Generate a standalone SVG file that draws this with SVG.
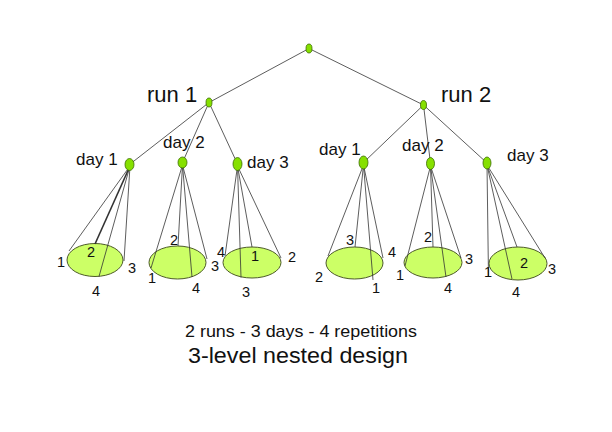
<svg xmlns="http://www.w3.org/2000/svg" width="612" height="432" viewBox="0 0 612 432">
<style>
.bg{fill:#ffffff}
.node{fill:#86e000;stroke:#3a6b00;stroke-width:0.8}
.base{fill:#ccff66;stroke:#4d5a2a;stroke-width:1}
.edge{stroke:#333333;stroke-width:0.8;fill:none}
.t{font-family:"Liberation Sans",Arial,sans-serif;fill:#111111}
.big{font-size:22px}
.day{font-size:17px}
.num{font-size:14.5px;text-anchor:middle}
.cap{text-anchor:middle}
</style>
<rect class="bg" x="0" y="0" width="612" height="432"/>
<g id="bases">
<ellipse id="base-r1d1" class="base" cx="95" cy="260" rx="28" ry="16.5"/>
<ellipse id="base-r1d2" class="base" cx="177.5" cy="262.5" rx="28.5" ry="16.5"/>
<ellipse id="base-r1d3" class="base" cx="252" cy="262.5" rx="29" ry="15.5"/>
<ellipse id="base-r2d1" class="base" cx="354.5" cy="263" rx="28.5" ry="16"/>
<ellipse id="base-r2d2" class="base" cx="433" cy="262.5" rx="29" ry="15.5"/>
<ellipse id="base-r2d3" class="base" cx="518" cy="263.5" rx="29" ry="16.5"/>
</g>
<g id="connectors">
<line class="edge" x1="309" y1="48.5" x2="209" y2="102.5"/>
<line class="edge" x1="309" y1="48.5" x2="423.5" y2="105"/>
<line class="edge" x1="209" y1="102.5" x2="129.5" y2="164.5"/>
<line class="edge" x1="209" y1="102.5" x2="182.5" y2="162.5"/>
<line class="edge" x1="209" y1="102.5" x2="237.5" y2="164"/>
<line class="edge" x1="423.5" y1="105" x2="363.5" y2="162.5"/>
<line class="edge" x1="423.5" y1="105" x2="430.5" y2="163.5"/>
<line class="edge" x1="423.5" y1="105" x2="487" y2="163"/>
<line class="edge" x1="130" y1="166" x2="69" y2="251"/>
<line class="edge" x1="130" y1="166" x2="95" y2="244" style="stroke-width:1.6"/>
<line class="edge" x1="130" y1="166" x2="99" y2="276.5"/>
<line class="edge" x1="130" y1="166" x2="124" y2="261"/>
<line class="edge" x1="182.5" y1="165" x2="151" y2="268"/>
<line class="edge" x1="182.5" y1="165" x2="178" y2="246"/>
<line class="edge" x1="182.5" y1="165" x2="192" y2="277"/>
<line class="edge" x1="182.5" y1="165" x2="207" y2="259"/>
<line class="edge" x1="237.5" y1="166" x2="225" y2="256"/>
<line class="edge" x1="237.5" y1="166" x2="241" y2="277.5"/>
<line class="edge" x1="237.5" y1="166" x2="252" y2="247"/>
<line class="edge" x1="237.5" y1="166" x2="281" y2="258"/>
<line class="edge" x1="363.5" y1="165" x2="328" y2="256"/>
<line class="edge" x1="363.5" y1="165" x2="355" y2="247"/>
<line class="edge" x1="363.5" y1="165" x2="373" y2="280"/>
<line class="edge" x1="363.5" y1="165" x2="383" y2="258"/>
<line class="edge" x1="430.5" y1="166" x2="405" y2="266"/>
<line class="edge" x1="430.5" y1="166" x2="433" y2="247"/>
<line class="edge" x1="430.5" y1="166" x2="446" y2="277"/>
<line class="edge" x1="430.5" y1="166" x2="461" y2="258"/>
<line class="edge" x1="487" y1="165" x2="488.5" y2="277"/>
<line class="edge" x1="487" y1="165" x2="512" y2="279"/>
<line class="edge" x1="487" y1="165" x2="517" y2="247"/>
<line class="edge" x1="487" y1="165" x2="545" y2="258"/>
</g>
<g id="root"><ellipse class="node" cx="309" cy="48.5" rx="3" ry="4.5"/></g>
<g id="run1"><ellipse class="node" cx="209" cy="102.5" rx="3" ry="4.5"/><text class="t big" x="147" y="102">run 1</text></g>
<g id="run2"><ellipse class="node" cx="423.5" cy="105" rx="3" ry="4.5"/><text class="t big" x="441" y="102">run 2</text></g>
<g id="r1d1"><ellipse class="node" cx="129.5" cy="164.5" rx="4.5" ry="6"/><text class="t day" x="76" y="165">day 1</text></g>
<g id="r1d2"><ellipse class="node" cx="182.5" cy="162.5" rx="4.5" ry="5.5"/><text class="t day" x="163" y="148">day 2</text></g>
<g id="r1d3"><ellipse class="node" cx="237.5" cy="164" rx="4.5" ry="6.5"/><text class="t day" x="247" y="168">day 3</text></g>
<g id="r2d1"><ellipse class="node" cx="363.5" cy="162.5" rx="4.5" ry="6.5"/><text class="t day" x="319" y="155">day 1</text></g>
<g id="r2d2"><ellipse class="node" cx="430.5" cy="163.5" rx="4" ry="6"/><text class="t day" x="402" y="151">day 2</text></g>
<g id="r2d3"><ellipse class="node" cx="487" cy="163" rx="4" ry="6"/><text class="t day" x="507" y="161">day 3</text></g>
<g id="labels">
<text class="t num" x="61" y="267">1</text>
<text class="t num" x="91" y="257">2</text>
<text class="t num" x="132" y="273">3</text>
<text class="t num" x="96" y="296">4</text>
<text class="t num" x="152" y="283">1</text>
<text class="t num" x="174" y="245">2</text>
<text class="t num" x="215" y="271">3</text>
<text class="t num" x="196" y="293">4</text>
<text class="t num" x="221" y="257">4</text>
<text class="t num" x="255" y="261">1</text>
<text class="t num" x="292" y="262">2</text>
<text class="t num" x="246" y="297">3</text>
<text class="t num" x="350" y="245">3</text>
<text class="t num" x="392" y="257">4</text>
<text class="t num" x="319" y="282">2</text>
<text class="t num" x="376" y="293">1</text>
<text class="t num" x="428" y="242">2</text>
<text class="t num" x="469" y="264">3</text>
<text class="t num" x="400" y="280">1</text>
<text class="t num" x="448" y="293">4</text>
<text class="t num" x="488" y="277">1</text>
<text class="t num" x="524" y="268">2</text>
<text class="t num" x="552" y="274">3</text>
<text class="t num" x="516" y="297">4</text>
</g>
<g id="caption">
<text class="t cap" x="301" y="337" style="font-size:17px" textLength="232" lengthAdjust="spacingAndGlyphs">2 runs - 3 days - 4 repetitions</text>
<text class="t cap" x="298" y="363" style="font-size:21.5px" textLength="220" lengthAdjust="spacingAndGlyphs">3-level nested design</text>
</g>
</svg>
